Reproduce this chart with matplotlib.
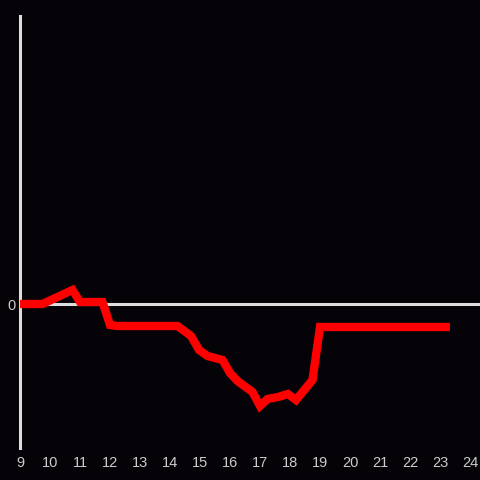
import matplotlib
matplotlib.use("Agg")
import matplotlib.pyplot as plt

hours = [9.0, 9.75, 10.75, 11.0, 11.75, 12.0, 12.25, 14.25, 14.7, 14.97, 15.25, 15.75,
         16.0, 16.25, 16.75, 17.0, 17.25, 17.6, 17.93, 18.2, 18.75, 19.0, 23.33]
values = [0.0, 0.0, 1.4, 0.2, 0.2, -2.1, -2.2, -2.2, -3.2, -4.6, -5.2, -5.6,
          -6.9, -7.7, -8.8, -10.2, -9.5, -9.3, -9.0, -9.6, -7.6, -2.3, -2.3]
xticks = list(range(9, 25))
yticks = [0]

bg = "#050307"
fig = plt.figure(figsize=(4.8, 4.8), dpi=100, facecolor=bg)
ax = fig.add_axes([20/480, 32/480, 460/480, 432/480], facecolor=bg)
ax.set_xlim(9, 9 + 460/30)
ax.set_ylim(-14.4, 28.8)

ax.axhline(0, color="#dddddd", lw=2.2, zorder=1)
ax.plot(hours, values, color="#ff0000", lw=6, solid_joinstyle="miter",
        solid_capstyle="butt", zorder=5, clip_on=False)

for s in ["top", "right", "bottom"]:
    ax.spines[s].set_visible(False)
ax.spines["left"].set_color("#dddddd")
ax.spines["left"].set_linewidth(2.2)
ax.spines["left"].set_zorder(2)

ax.set_xticks(xticks)
ax.set_xticklabels([str(t) for t in xticks])
ax.set_yticks(yticks)
ax.set_yticklabels([str(t) for t in yticks])
ax.tick_params(axis="both", length=0, colors="#cccccc", labelsize=10.5,
               labelfontfamily="Liberation Sans")
ax.tick_params(axis="x", pad=6)
ax.tick_params(axis="y", pad=3)

fig.savefig("out.png", dpi=100, facecolor=bg)
